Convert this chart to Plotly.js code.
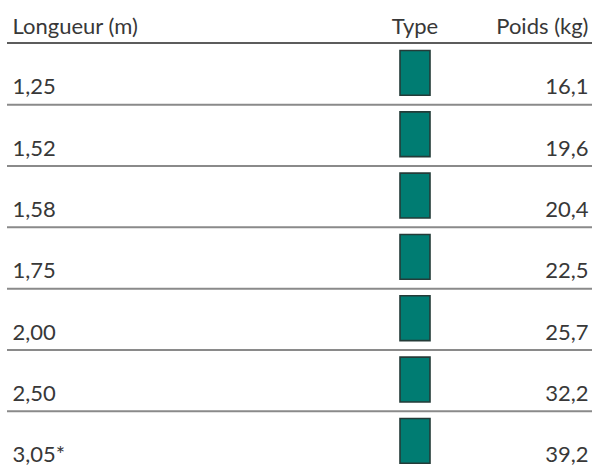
<!DOCTYPE html>
<html>
<head>
<meta charset="utf-8">
<script src="https://cdn.plot.ly/plotly-3.0.1.min.js"></script>
<style>html,body{margin:0;padding:0;background:#fff}#chart{width:595px;height:468px}</style>
</head>
<body>
<div id="chart"></div>
<script>
// Data
const headers = ['Longueur (m)', 'Type', 'Poids (kg)'];
const lengths = ['1,25', '1,52', '1,58', '1,75', '2,00', '2,50', '3,05*'];
const weights = ['16,1', '19,6', '20,4', '22,5', '25,7', '32,2', '39,2'];
const typeColor = '#007c72';

// Layout constants (pixel-like data coordinates)
const FONT = 'Lato, "DejaVu Sans Condensed", sans-serif';
const FS = 22;
const pitch = 61.33;
const rectTop0 = 50.5, rectH = 44.8, rectW = 30, rectX = 415;
const base0 = 96.5, headBase = 36;
const mid = 0.35 * FS;
const leftX = 12.5, rightX = 588.5;
const txtColor = '#383838';

const n = lengths.length;
const idx = lengths.map((_, i) => i);
const textY = idx.map(i => base0 + i * pitch - mid);

const traces = [
  {
    type: 'bar', x: idx.map(() => rectX), y: idx.map(() => rectH),
    base: idx.map(i => rectTop0 + i * pitch), width: rectW,
    marker: {color: typeColor, line: {color: '#243b38', width: 1.6}},
    hoverinfo: 'skip', showlegend: false
  },
  {
    type: 'scatter', mode: 'text', x: idx.map(() => leftX), y: textY,
    text: lengths, textposition: 'middle right', cliponaxis: false,
    textfont: {family: FONT, size: FS, color: txtColor}, showlegend: false, hoverinfo: 'skip'
  },
  {
    type: 'scatter', mode: 'text', x: idx.map(() => rightX), y: textY,
    text: weights, textposition: 'middle left', cliponaxis: false,
    textfont: {family: FONT, size: FS, color: txtColor}, showlegend: false, hoverinfo: 'skip'
  },
  {
    type: 'scatter', mode: 'text', x: [leftX, rectX, rightX], y: [headBase - mid, headBase - mid, headBase - mid],
    text: headers, textposition: ['middle right', 'middle center', 'middle left'], cliponaxis: false,
    textfont: {family: FONT, size: FS, color: txtColor}, showlegend: false, hoverinfo: 'skip'
  }
];

const shapes = [{type: 'line', x0: 7, x1: 592, y0: 43, y1: 43, line: {color: '#262626', width: 1.5}}];
for (let i = 0; i < n - 1; i++) {
  const y = 104.7 + i * pitch;
  shapes.push({type: 'line', x0: 7, x1: 592, y0: y, y1: y, line: {color: '#8a8a8a', width: 2}});
}

const layout = {
  width: 595, height: 468,
  margin: {l: 0, r: 0, t: 0, b: 0},
  paper_bgcolor: '#fff', plot_bgcolor: '#fff',
  xaxis: {range: [0, 595], visible: false, fixedrange: true},
  yaxis: {range: [468, 0], visible: false, fixedrange: true},
  shapes: shapes,
  showlegend: false
};

Plotly.newPlot('chart', traces, layout, {staticPlot: true, displayModeBar: false});
</script>
</body>
</html>
